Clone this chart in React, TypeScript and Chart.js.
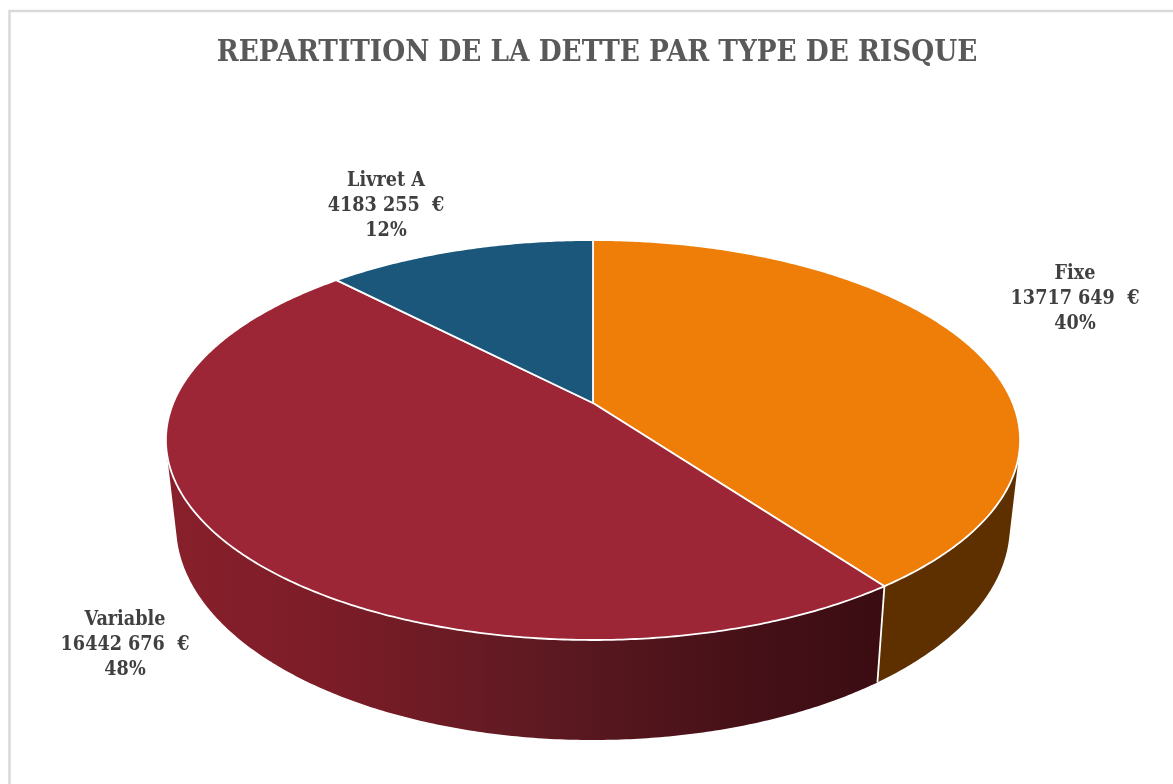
import React, { useEffect, useRef } from "react";
import { Chart, registerables } from "chart.js";

Chart.register(...registerables);

const categories = ["Fixe", "Variable", "Livret A"];
const amounts = [13717649, 16442676, 4183255];
const amountLabels = ["13717 649  €", "16442 676  €", "4183 255  €"];
const sliceColors = ["#EE7E08", "#9C2635", "#1A577B"];
const TITLE = "REPARTITION DE LA DETTE PAR TYPE DE RISQUE";

const FONT_FAMILY = '"DejaVu Serif Condensed", "DejaVu Serif"';
const LABEL_FONT = `bold 19.6px ${FONT_FAMILY}`;
const labelAnchors = [
  { x: 1075, y: 274 },
  { x: 125, y: 620 },
  { x: 386, y: 181 },
];

// Perspective of the disc: unit circle (u, v) -> screen.
const CX = 593;
const PERSP = -0.185;
const RX = 419.7;
const TOP = { b: 118.6, c: 403, s: 1 };
const BOTTOM = { b: 116.8, c: 486.3, s: 0.976 };

function project(angle: number, face: { b: number; c: number; s: number }, r = 1) {
  const u = Math.cos(angle) * r;
  const v = Math.sin(angle) * r;
  const w = 1 + PERSP * v;
  return { x: CX + (face.s * RX * u) / w, y: (face.b * v + face.c) / w };
}

function isFront(a: number) {
  const d = 0.001;
  const p = project(a, TOP);
  const q = project(a + d, TOP);
  const b = project(a, BOTTOM);
  return (q.x - p.x) * (b.y - p.y) - (q.y - p.y) * (b.x - p.x) < 0;
}

const perspectivePie = {
  id: "perspectivePie",
  beforeDraw(chart: any) {
    const { ctx, width, height } = chart;
    ctx.save();
    ctx.fillStyle = "#ffffff";
    ctx.fillRect(0, 0, width, height);
    ctx.strokeStyle = "#d9d9d9";
    ctx.lineWidth = 2.5;
    ctx.beginPath();
    ctx.moveTo(9.5, height);
    ctx.lineTo(9.5, 11);
    ctx.lineTo(width, 11);
    ctx.stroke();
    ctx.restore();
  },
  beforeDatasetsDraw(chart: any) {
    const { ctx } = chart;
    const arcs = chart.getDatasetMeta(0).data;
    const colors = chart.data.datasets[0].backgroundColor;
    const step = Math.PI / 360;
    ctx.save();

    const redWall = ctx.createLinearGradient(167, 0, 884, 0);
    redWall.addColorStop(0, "#88202B");
    redWall.addColorStop(0.25, "#7A1C27");
    redWall.addColorStop(0.5, "#601A22");
    redWall.addColorStop(0.78, "#481118");
    redWall.addColorStop(1, "#3A0C12");
    const wallFill = ["#5E3000", redWall, "#0F3249"];

    // Walls: only the part of each slice that faces the viewer
    arcs.forEach((arc: any, i: number) => {
      const angles: number[] = [];
      for (let a = arc.startAngle; a < arc.endAngle; a += step) {
        if (isFront(a)) angles.push(a);
      }
      if (isFront(arc.endAngle)) angles.push(arc.endAngle);
      if (angles.length < 2) return;
      ctx.beginPath();
      angles.forEach((a, k) => {
        const p = project(a, TOP);
        if (k === 0) ctx.moveTo(p.x, p.y);
        else ctx.lineTo(p.x, p.y);
      });
      [...angles].reverse().forEach((a) => {
        const p = project(a, BOTTOM);
        ctx.lineTo(p.x, p.y);
      });
      ctx.closePath();
      ctx.fillStyle = wallFill[i];
      ctx.fill();
    });

    // Wall separator between the two front slices
    const seam = arcs[0].endAngle;
    const s1 = project(seam, TOP);
    const s2 = project(seam, BOTTOM);
    ctx.strokeStyle = "#ffffff";
    ctx.lineWidth = 1.8;
    ctx.beginPath();
    ctx.moveTo(s1.x, s1.y);
    ctx.lineTo(s2.x, s2.y);
    ctx.stroke();

    // Top faces
    arcs.forEach((arc: any, i: number) => {
      const apex = project(0, TOP, 0);
      ctx.beginPath();
      ctx.moveTo(apex.x, apex.y);
      for (let a = arc.startAngle; a < arc.endAngle; a += step) {
        const p = project(a, TOP);
        ctx.lineTo(p.x, p.y);
      }
      const e = project(arc.endAngle, TOP);
      ctx.lineTo(e.x, e.y);
      ctx.closePath();
      ctx.fillStyle = colors[i];
      ctx.fill();
      ctx.strokeStyle = "#ffffff";
      ctx.lineWidth = 1.8;
      ctx.lineJoin = "round";
      ctx.stroke();
    });
    ctx.restore();
    return false;
  },
  afterDraw(chart: any) {
    const { ctx } = chart;
    const values = chart.data.datasets[0].data;
    const total = values.reduce((s: number, v: number) => s + v, 0);
    ctx.save();
    ctx.font = LABEL_FONT;
    ctx.fillStyle = "#404040";
    ctx.textAlign = "center";
    ctx.textBaseline = "middle";
    values.forEach((v: number, i: number) => {
      const lines = [chart.data.labels[i], amountLabels[i], `${Math.round((v / total) * 100)}%`];
      lines.forEach((t: string, k: number) => {
        ctx.fillText(t, labelAnchors[i].x, labelAnchors[i].y + k * 25);
      });
    });
    ctx.restore();
  },
};

export default function App() {
  const ref = useRef<HTMLCanvasElement | null>(null);
  useEffect(() => {
    const chart = new Chart(ref.current as HTMLCanvasElement, {
      type: "pie",
      data: {
        labels: categories,
        datasets: [{ data: amounts, backgroundColor: sliceColors, borderColor: "#ffffff", borderWidth: 1.8 }],
      },
      options: {
        animation: false,
        responsive: false,
        layout: { padding: { left: 21 } },
        plugins: {
          legend: { display: false },
          tooltip: { enabled: false },
          title: {
            display: true,
            text: TITLE,
            color: "#595959",
            font: { family: FONT_FAMILY, size: 29.3, weight: "bold" },
            padding: { top: 36, bottom: 20 },
          },
        },
      },
      plugins: [perspectivePie],
    } as any);
    return () => chart.destroy();
  }, []);
  return (
    <canvas
      ref={ref}
      width={1173}
      height={784}
      style={{ position: "fixed", left: 0, top: 0, width: 1173, height: 784 }}
    />
  );
}
